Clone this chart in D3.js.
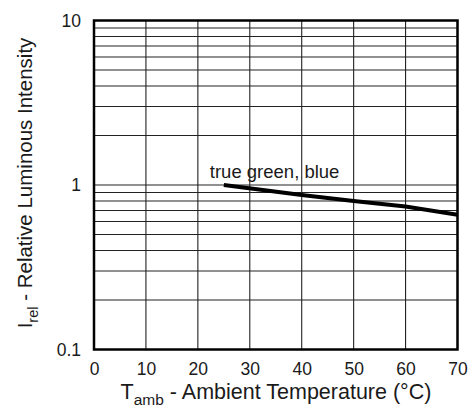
<!DOCTYPE html>
<html>
<head>
<meta charset="utf-8">
<script src="https://cdn.jsdelivr.net/npm/d3@7"></script>
<style>
  body { margin: 0; background: #fff; }
  text { font-family: "Liberation Sans", Arial, Helvetica, sans-serif; fill: #1a1a1a; }
</style>
</head>
<body>
<div id="chart"></div>
<script>
// data
var temps = [25, 40, 50, 60, 70];
var intensity = [1.0, 0.87, 0.80, 0.74, 0.66];
var seriesLabel = 'true green, blue';
var xTicks = [0, 10, 20, 30, 40, 50, 60, 70];
var yTicks = [0.1, 1, 10];

var width = 472, height = 411;
var margin = { top: 20.5, right: 14.5, bottom: 61.5, left: 94 };
var iw = width - margin.left - margin.right;
var ih = height - margin.top - margin.bottom;

var x = d3.scaleLinear().domain([0, 70]).range([0, iw]);
var y = d3.scaleLog().domain([0.1, 10]).range([ih, 0]);

var svg = d3.select('#chart').append('svg')
    .attr('width', width)
    .attr('height', height);

var g = svg.append('g')
    .attr('transform', 'translate(' + margin.left + ',' + margin.top + ')');

// minor grid 1..9 in each decade
var gridY = [];
[0.1, 1].forEach(function (d) {
    for (var k = 1; k <= 9; k++) gridY.push(d * k);
});
gridY.push(10);

g.append('g').selectAll('line')
    .data(gridY)
    .enter().append('line')
    .attr('x1', 0).attr('x2', iw)
    .attr('y1', function (d) { return y(d); })
    .attr('y2', function (d) { return y(d); })
    .attr('stroke', '#222')
    .attr('stroke-width', 1.1);

g.append('g').selectAll('line')
    .data(xTicks)
    .enter().append('line')
    .attr('y1', 0).attr('y2', ih)
    .attr('x1', function (d) { return x(d); })
    .attr('x2', function (d) { return x(d); })
    .attr('stroke', '#222')
    .attr('stroke-width', 1.1);

// frame
g.append('rect')
    .attr('width', iw).attr('height', ih)
    .attr('fill', 'none')
    .attr('stroke', '#000')
    .attr('stroke-width', 2.5);

// tick labels
var xAxis = d3.axisBottom(x).tickValues(xTicks).tickSize(0).tickPadding(13);
g.append('g')
    .attr('transform', 'translate(0,' + ih + ')')
    .call(xAxis)
    .call(function (s) { s.select('.domain').remove(); })
    .selectAll('text')
    .style('font-size', '17.5px')
    .attr('fill', '#1a1a1a');

var yAxis = d3.axisLeft(y).tickValues(yTicks).tickSize(0).tickPadding(13)
    .tickFormat(function (d) { return d < 1 ? '0.1' : d3.format('d')(d); });
g.append('g')
    .call(yAxis)
    .call(function (s) { s.select('.domain').remove(); })
    .selectAll('text')
    .style('font-size', '17.5px')
    .attr('fill', '#1a1a1a');

// curve
var line = d3.line()
    .x(function (d, i) { return x(temps[i]); })
    .y(function (d) { return y(d); });

g.append('path')
    .datum(intensity)
    .attr('d', line)
    .attr('fill', 'none')
    .attr('stroke', '#000')
    .attr('stroke-width', 4);

g.append('text')
    .attr('x', x(temps[0]) - 14)
    .attr('y', y(intensity[0]) - 7.5)
    .style('font-size', '18.5px')
    .text(seriesLabel);

// axis titles
var xt = svg.append('text')
    .attr('x', 276)
    .attr('y', 399)
    .attr('text-anchor', 'middle')
    .style('font-size', '21.5px');
xt.append('tspan').text('T');
xt.append('tspan').text('amb').attr('dy', 6).style('font-size', '15.5px');
xt.append('tspan').text(' - Ambient Temperature (°C)').attr('dy', -6);

var yt = svg.append('text')
    .attr('transform', 'translate(32,183) rotate(-90)')
    .attr('text-anchor', 'middle')
    .style('font-size', '20.5px');
yt.append('tspan').text('I');
yt.append('tspan').text('rel').attr('dy', 6).style('font-size', '14.5px');
yt.append('tspan').text(' - Relative Luminous Intensity').attr('dy', -6);
</script>
</body>
</html>
